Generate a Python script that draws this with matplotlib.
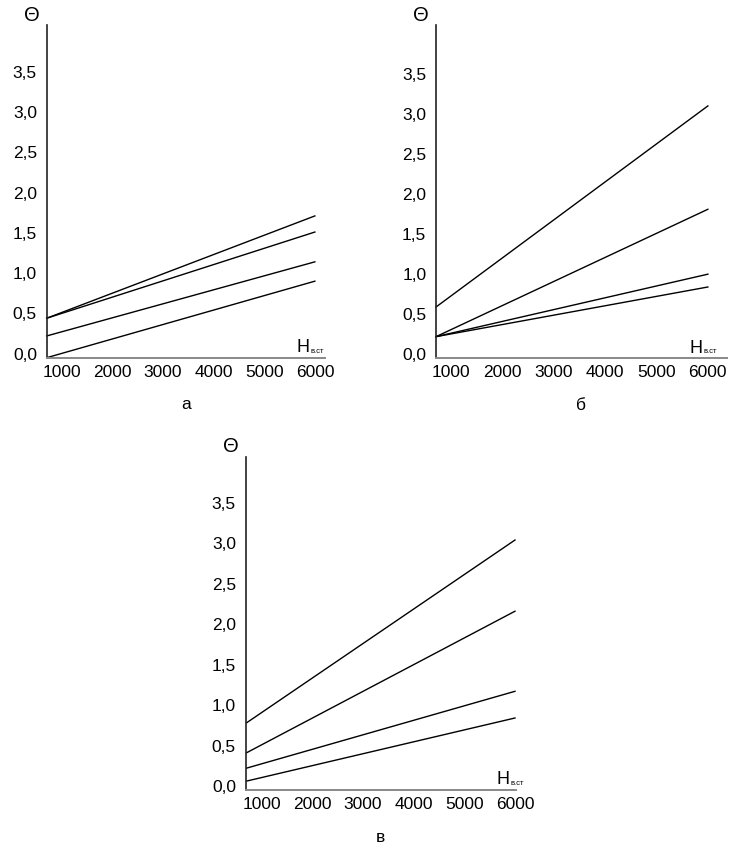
import matplotlib
matplotlib.use("Agg")
from matplotlib import pyplot as plt
from matplotlib.transforms import ScaledTranslation

plt.rcParams['font.family'] = ['Liberation Sans', 'DejaVu Sans']

# H_в.ст range of the lines
h_lines = [700, 6000]

# Θ at the start and at the end of every line, panels а, б, в
theta_a_start = [0.49, 0.49, 0.27, 0.0]
theta_a_end = [1.76, 1.56, 1.19, 0.95]
theta_b_start = [0.64, 0.27, 0.27, 0.27]
theta_b_end = [3.15, 1.86, 1.05, 0.89]
theta_c_start = [0.83, 0.46, 0.27, 0.11]
theta_c_end = [3.09, 2.21, 1.22, 0.89]

x_ticks = [1000, 2000, 3000, 4000, 5000, 6000]
y_ticks = [0.0, 0.5, 1.0, 1.5, 2.0, 2.5, 3.0, 3.5]
y_labels = ['0,0', '0,5', '1,0', '1,5', '2,0', '2,5', '3,0', '3,5']
panel_names = ['а', 'б', 'в']

W, H = 747, 850
fig = plt.figure(figsize=(W / 100, H / 100), dpi=100)


def make_panel(left, right, bottom, top, xlim, ylim_top, starts, ends, name):
    ax = fig.add_axes([left / W, (H - bottom) / H, (right - left) / W, (bottom - top) / H])
    for s, e in zip(starts, ends):
        ax.plot(h_lines, [s, e], color='black', lw=1.0, clip_on=False)
    ax.set_xlim(*xlim)
    ax.set_ylim(0, ylim_top)
    ax.spines['top'].set_visible(False)
    ax.spines['right'].set_visible(False)
    ax.spines['left'].set_color('#222222')
    ax.spines['left'].set_linewidth(1.2)
    ax.spines['bottom'].set_color('#888888')
    ax.spines['bottom'].set_linewidth(1.4)
    ax.set_xticks(x_ticks)
    ax.set_xticklabels([str(t) for t in x_ticks])
    ax.set_yticks(y_ticks)
    ax.set_yticklabels(y_labels)
    ax.tick_params(axis='both', length=0, labelsize=12.5, colors='black')
    ax.tick_params(axis='y', pad=7)
    ax.tick_params(axis='x', pad=5)
    # tick labels sit a little above their values in the source figure
    for lab in ax.get_yticklabels():
        lab.set_transform(lab.get_transform() + ScaledTranslation(0, 0.04, fig.dpi_scale_trans))

    ax.annotate('Θ', xy=(0, 1), xycoords='axes fraction', xytext=(-11, 7),
                textcoords='offset points', ha='center', va='center', fontsize=14.5)
    ax.annotate('H', xy=(5640, 0), xycoords=('data', 'axes fraction'), xytext=(0, 4),
                textcoords='offset points', ha='left', va='baseline', fontsize=13)
    ax.annotate('в.ст', xy=(5640, 0), xycoords=('data', 'axes fraction'), xytext=(10, 3.5),
                textcoords='offset points', ha='left', va='baseline', fontsize=5.5)
    ax.annotate(name, xy=(0.5, 0), xycoords='axes fraction', xytext=(0, -34),
                textcoords='offset points', ha='center', va='center', fontsize=12.5)
    return ax


make_panel(46.7, 325, 357.7, 25, (700, 6200), 4.13, theta_a_start, theta_a_end, panel_names[0])
make_panel(436, 726.7, 358.3, 25, (700, 6367), 4.16, theta_b_start, theta_b_end, panel_names[1])
make_panel(245.7, 516, 790, 456.7, (684, 6020), 4.12, theta_c_start, theta_c_end, panel_names[2])

fig.savefig('out.png', dpi=100, facecolor='white')
